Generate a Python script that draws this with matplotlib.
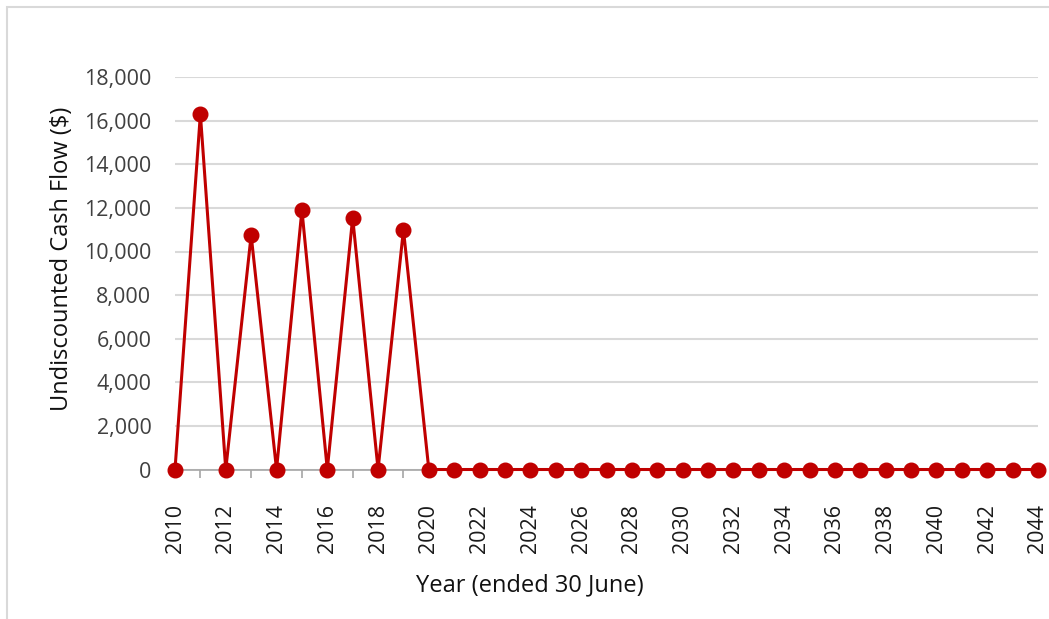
import matplotlib
matplotlib.use("Agg")
import matplotlib.pyplot as plt
from matplotlib.patches import Rectangle
from matplotlib.ticker import FuncFormatter

# Financial years (ended 30 June) and undiscounted cash flow in dollars
years = list(range(2010, 2045))
cash_flow = [
    0, 16300, 0, 10750, 0, 11900, 0, 11550, 0, 11000,
    0, 0, 0, 0, 0, 0, 0, 0, 0, 0,
    0, 0, 0, 0, 0, 0, 0, 0, 0, 0,
    0, 0, 0, 0, 0,
]
label_years = list(range(2010, 2045, 2))
y_ticks = list(range(0, 18001, 2000))

plt.rcParams["font.family"] = ["Open Sans", "DejaVu Sans"]

W, H = 1049, 619
fig = plt.figure(figsize=(W / 100, H / 100), dpi=100)

# chart border
fig.patches.append(Rectangle((7 / W, -0.05), (W + 20) / W, (H - 7) / H + 0.05,
                             transform=fig.transFigure, fill=False,
                             edgecolor="#d9d9d9", linewidth=1.5))

left, right = 175, 1038
top, bottom = 77.1, 469.5
ax = fig.add_axes([left / W, 1 - bottom / H, (right - left) / W, (bottom - top) / H])

ax.plot(years, cash_flow, color="#C00000", linewidth=2.2, marker="o",
        markersize=10.5, markerfacecolor="#C00000", markeredgecolor="#C00000",
        zorder=5, clip_on=False)

ax.set_xlim(2010, 2044)
ax.set_ylim(0, 18000)

ax.set_yticks(y_ticks)
ax.yaxis.set_major_formatter(FuncFormatter(lambda v, p: f"{int(v):,}"))
ax.tick_params(axis="y", length=0, pad=17, labelsize=15.5, labelcolor="#404040")

ax.set_xticks(label_years)
ax.set_xticks([y for y in years if y % 2 == 1], minor=True)
ax.set_xticklabels([str(y) for y in label_years], rotation=90)
ax.tick_params(axis="x", which="major", length=0, pad=25, labelsize=15.5,
               labelcolor="#1a1a1a")
ax.tick_params(axis="x", which="minor", length=6, width=1.2, color="#a6a6a6")

ax.grid(axis="y", color="#d9d9d9", linewidth=1.5)
ax.set_axisbelow(True)
for side in ["left", "right", "top"]:
    ax.spines[side].set_visible(False)
ax.spines["bottom"].set_color("#a6a6a6")
ax.spines["bottom"].set_linewidth(1.2)

fig.text(62 / W, 1 - 259 / H, "Undiscounted Cash Flow ($)", rotation=90,
         ha="center", va="center", fontsize=17, color="#111111")
fig.text(530 / W, 1 - 585 / H, "Year (ended 30 June)", ha="center", va="center",
         fontsize=17, color="#111111")

fig.savefig("out.png", dpi=100, facecolor="white")
